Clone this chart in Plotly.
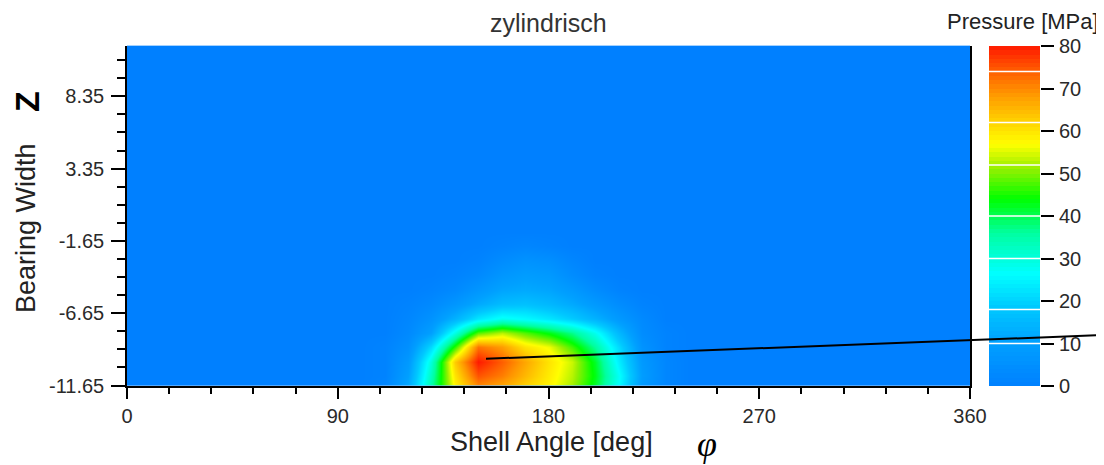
import plotly.graph_objects as go

# ---------------- data ----------------
shell_angle = [0, 100, 110, 120, 130, 140, 150, 160, 170, 180, 190, 200, 210, 220, 230, 240, 360]
bearing_width = [-11.65, -11, -10, -9, -8, -7, -6, -5, -4, -3, -2, -1, 11.85]

# pressure [MPa], rows follow bearing_width, columns follow shell_angle
pressure = [
    [0, 0, 2, 12, 35, 58, 70, 67, 62, 58, 52, 42, 26, 8, 2, 0, 0],
    [0, 0, 1, 10, 33, 60, 75, 71, 65, 59, 53, 43, 27, 9, 2, 0, 0],
    [0, 0, 1, 8, 30, 63, 80, 74, 67, 60, 54, 42, 24, 8, 2, 0, 0],
    [0, 0, 1, 5, 21, 46, 72, 68, 60, 56, 47, 36, 21, 6, 1, 0, 0],
    [0, 0, 0, 3, 10, 29, 48, 53, 48, 43, 37, 28, 15, 4, 1, 0, 0],
    [0, 0, 0, 2, 6, 14, 23, 28, 26, 23, 19, 14, 8, 3, 0, 0, 0],
    [0, 0, 0, 1, 3, 7, 12, 16, 17, 15, 12, 8, 4, 1, 0, 0, 0],
    [0, 0, 0, 0, 1, 3, 7, 11, 12, 11, 8, 4, 1, 0, 0, 0, 0],
    [0, 0, 0, 0, 0, 1, 3, 7, 9, 8, 4, 1, 0, 0, 0, 0, 0],
    [0, 0, 0, 0, 0, 0, 1, 4, 6, 5, 2, 0, 0, 0, 0, 0, 0],
    [0, 0, 0, 0, 0, 0, 0, 1, 2, 1, 0, 0, 0, 0, 0, 0, 0],
    [0, 0, 0, 0, 0, 0, 0, 0, 0, 0, 0, 0, 0, 0, 0, 0, 0],
    [0, 0, 0, 0, 0, 0, 0, 0, 0, 0, 0, 0, 0, 0, 0, 0, 0],
]

x_ticks = [0, 90, 180, 270, 360]
y_ticks = [-11.65, -6.65, -1.65, 3.35, 8.35]
y_tick_labels = ["-11.65", "-6.65", "-1.65", "3.35", "8.35"]
cbar_ticks = [0, 10, 20, 30, 40, 50, 60, 70, 80]
cbar_band_edges = [10, 18, 30, 40, 52, 62, 74]
pointer_start = (153.3, -9.8)  # marked point (angle, width)

# ---------------- style ----------------
OFF = 8                      # page body margin
W, H = 1104 - OFF, 465 - OFF


def px(x):
    return (x - OFF) / W


def py(y):
    return 1 - (y - OFF) / H


colorscale = [
    [0.0, "rgb(0,128,255)"],
    [0.125, "rgb(0,160,255)"],
    [0.23, "rgb(0,200,255)"],
    [0.33, "rgb(0,255,255)"],
    [0.45, "rgb(0,255,160)"],
    [0.55, "rgb(0,255,0)"],
    [0.64, "rgb(150,240,0)"],
    [0.71, "rgb(255,255,0)"],
    [0.77, "rgb(255,215,0)"],
    [0.86, "rgb(255,150,0)"],
    [0.93, "rgb(255,90,0)"],
    [1.0, "rgb(255,25,0)"],
]
FONT = "Liberation Sans, Arial, sans-serif"
x_dom = [px(127), px(970)]
y_dom = [py(385.5), py(45.7)]
cb_dom = [px(989), px(1040)]
GRID = "rgb(195,195,200)"

fig = go.Figure()

fig.add_trace(go.Heatmap(
    x=shell_angle, y=bearing_width, z=pressure,
    zmin=0, zmax=80, colorscale=colorscale, zsmooth="best",
    showscale=False, xaxis="x", yaxis="y", hoverinfo="skip",
))

# colour bar as its own strip
cb_levels = [i + 0.5 for i in range(80)]
fig.add_trace(go.Heatmap(
    x=[0], y=cb_levels, z=[[v] for v in cb_levels],
    zmin=0, zmax=80, colorscale=colorscale, showscale=False,
    xaxis="x2", yaxis="y2", hoverinfo="skip",
))

# black pointer line (start at the marked point, runs to the right edge)
px0 = x_dom[0] + pointer_start[0] / 360 * (x_dom[1] - x_dom[0])
py0 = y_dom[0] + (pointer_start[1] + 11.65) / (11.85 + 11.65) * (y_dom[1] - y_dom[0])
shapes = [dict(type="line", xref="paper", yref="paper", x0=px0, y0=py0,
               x1=1.0, y1=py(335), line=dict(color="black", width=2), layer="above")]
for e in cbar_band_edges:
    shapes.append(dict(type="line", xref="x2", yref="y2", x0=-0.5, x1=0.5, y0=e, y1=e,
                       line=dict(color="white", width=1.5), layer="above"))

tickfont = dict(family=FONT, size=20, color="#2a2a2a")
fig.update_layout(
    width=W, height=H,
    margin=dict(l=0, r=0, t=0, b=0),
    paper_bgcolor="white", plot_bgcolor="rgb(0,128,255)",
    showlegend=False,
    shapes=shapes,
    xaxis=dict(
        domain=x_dom, range=[0, 360], tickvals=x_ticks,
        ticks="outside", ticklen=12, tickwidth=1.5, tickcolor="black",
        showline=True, linecolor="black", linewidth=1.5,
        showgrid=True, gridcolor=GRID, griddash="6px,4px", gridwidth=1.5,
        zeroline=False, tickfont=tickfont, automargin=False, layer="above traces",
        ticklabelstandoff=0,
        minor=dict(dtick=18, tick0=0, ticks="outside", ticklen=7, tickwidth=1.5,
                   tickcolor="black", showgrid=False),
        anchor="y",
    ),
    yaxis=dict(
        domain=y_dom, range=[-11.65, 11.85], tickvals=y_ticks, ticktext=y_tick_labels,
        ticks="outside", ticklen=14, tickwidth=1.5, tickcolor="black",
        showline=True, linecolor="black", linewidth=1.5, mirror=True,
        showgrid=True, gridcolor=GRID, griddash="6px,4px", gridwidth=1.5,
        zeroline=False, tickfont=tickfont, automargin=False, layer="above traces",
        ticklabelstandoff=3,
        minor=dict(dtick=1.25, tick0=-11.65, ticks="outside", ticklen=8, tickwidth=1.5,
                   tickcolor="black", showgrid=False),
        anchor="x",
    ),
    xaxis2=dict(domain=cb_dom, range=[-0.5, 0.5], showticklabels=False, ticks="",
                showgrid=False, zeroline=False, showline=False, anchor="y2", fixedrange=True),
    yaxis2=dict(domain=[py(386), py(46)], range=[0, 80], side="right",
                tickvals=cbar_ticks, ticks="outside", ticklen=13, tickwidth=1.5,
                tickcolor="black", showgrid=False, zeroline=False, showline=False,
                tickfont=tickfont, anchor="x2", automargin=False, ticklabelstandoff=1),
    annotations=[
        dict(text="zylindrisch", xref="paper", yref="paper",
             x=px(548), y=1.0, showarrow=False, borderpad=0,
             font=dict(family=FONT, size=25, color="#333"), xanchor="center", yanchor="top"),
        dict(text="Pressure [MPa]", xref="paper", yref="paper",
             x=px(1100), y=1.0, showarrow=False, borderpad=0,
             font=dict(family=FONT, size=22, color="#222"), xanchor="right", yanchor="top"),
        dict(text="Shell Angle [deg]", xref="paper", yref="paper",
             x=px(551), y=py(442), showarrow=False, borderpad=0,
             font=dict(family=FONT, size=27, color="#222"), xanchor="center", yanchor="middle"),
        dict(text="<i>φ</i>", xref="paper", yref="paper",
             x=px(707), y=0.0, showarrow=False, borderpad=0,
             font=dict(family="Liberation Serif, Times New Roman, serif", size=36, color="black"),
             xanchor="center", yanchor="bottom"),
        dict(text="Bearing Width", xref="paper", yref="paper",
             x=px(26), y=py(228), showarrow=False, textangle=-90, borderpad=0,
             font=dict(family=FONT, size=27, color="#222"), xanchor="center", yanchor="middle"),
        dict(text="<b>Z</b>", xref="paper", yref="paper",
             x=px(27), y=py(102), showarrow=False, textangle=-90, borderpad=0,
             font=dict(family=FONT, size=34, color="black"), xanchor="center", yanchor="middle"),
    ],
)

fig.write_html("out.html")
